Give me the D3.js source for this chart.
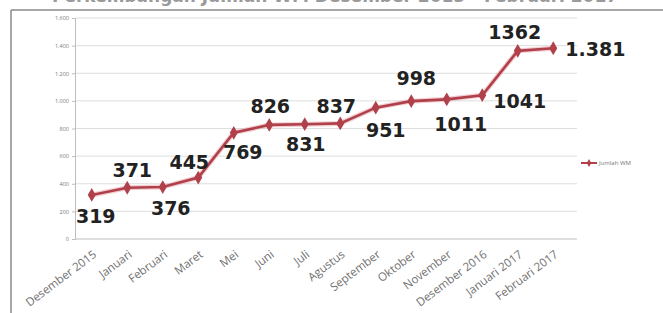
<!DOCTYPE html>
<html><head><meta charset="utf-8">
<script src="https://cdn.jsdelivr.net/npm/d3@7"></script>
<style>body{margin:0;background:#fff;overflow:hidden}svg{display:block}</style>
</head><body>
<svg id="c" width="663" height="313"></svg>
<script>
const categories = ["Desember 2015","Januari","Februari","Maret","Mei","Juni","Juli","Agustus","September","Oktober","November","Desember 2016","Januari 2017","Februari 2017"];
const values = [319,371,376,445,769,826,831,837,951,998,1011,1041,1362,1381];
const valueLabels = ["319","371","376","445","769","826","831","837","951","998","1011","1041","1362","1.381"];
const labelOffsets = [[4,28.5],[5,-11],[8,27.5],[-9,-9],[9,26.5],[1,-11.5],[1,27],[-4,-10],[10,29],[5,-16.5],[14,32],[11,13],[-3,-11.5],[12,8]];
const labelAnchors = ["middle","middle","middle","middle","middle","middle","middle","middle","middle","middle","middle","start","middle","start"];
const yTicks = [0,200,400,600,800,1000,1200,1400,1600];
const yTickLabels = ["0","200","400","600","800","1.000","1.200","1.400","1.600"];
const seriesName = "Jumlah WM";
const titleText = "Perkembangan Jumlah WM Desember 2015 - Februari 2017";

const svg = d3.select("#c");
const pL = 75, pR = 577, pT = 18, pB = 239;
const x = d3.scalePoint().domain(categories).range([74, 571]).padding(0.5);
const y = d3.scaleLinear().domain([0,1600]).range([pB, pT]);
const red = "#b0414a";

// frame & title (title is cropped at the top edge, as in the source image)
svg.append("text").attr("x", 335).attr("y", 2).attr("text-anchor","middle")
  .attr("font-family","DejaVu Sans").attr("font-weight","bold").attr("font-size",17)
  .attr("fill","#9a9a9a").text(titleText);
svg.append("line").attr("x1",11).attr("x2",663).attr("y1",10).attr("y2",10).attr("stroke","#8a8a8a").attr("stroke-width",1.5);
svg.append("line").attr("x1",11).attr("x2",11).attr("y1",10).attr("y2",313).attr("stroke","#8a8a8a").attr("stroke-width",1.5);

// gridlines
svg.append("g").selectAll("line").data(yTicks.slice(1)).join("line")
  .attr("x1", pL).attr("x2", pR).attr("y1", d=>y(d)).attr("y2", d=>y(d))
  .attr("stroke","#dedede").attr("stroke-width",1);

// y axis
const yAxis = d3.axisLeft(y).tickValues(yTicks).tickFormat((d,i)=>yTickLabels[i]).tickSize(3).tickPadding(3);
const gy = svg.append("g").attr("transform",`translate(${pL},0)`).call(yAxis);
gy.select(".domain").attr("stroke","#bdbdbd");
gy.selectAll(".tick line").attr("stroke","#bdbdbd");
gy.selectAll("text").attr("font-family","Open Sans").attr("font-size",5.5).attr("fill","#777");

// x axis
const xAxis = d3.axisBottom(x).tickSize(0).tickPadding(0);
const gx = svg.append("g").attr("transform",`translate(0,${pB})`).call(xAxis);
gx.select(".domain").attr("d", `M${pL},0H${pR}`).attr("stroke","#bdbdbd").attr("stroke-width",1.2);
gx.selectAll("text").attr("font-family","Open Sans").attr("font-size",11.5).attr("fill","#707070")
  .attr("text-anchor","end").attr("dy",0).attr("transform","translate(5,17) rotate(-37)");

// line
const pts = categories.map((c,i)=>[x(c), y(values[i])]);
const line = d3.line();
svg.append("path").attr("d", line(pts)).attr("fill","none").attr("stroke","#e8a0a8").attr("stroke-width",5).attr("opacity",0.5);
svg.append("path").attr("d", line(pts)).attr("fill","none").attr("stroke",red).attr("stroke-width",2.6);
const diamond = d3.symbol().type(d3.symbolDiamond).size(55);
svg.append("g").selectAll("path").data(pts).join("path")
  .attr("transform", d=>`translate(${d[0]},${d[1]})`).attr("d", diamond).attr("fill",red);

// data labels
svg.append("g").selectAll("text").data(values).join("text")
  .attr("x",(d,i)=>x(categories[i]) + labelOffsets[i][0])
  .attr("y",(d,i)=>y(d) + labelOffsets[i][1])
  .attr("text-anchor",(d,i)=>labelAnchors[i])
  .attr("font-family","DejaVu Sans").attr("font-weight","bold").attr("font-size",19)
  .attr("fill","#222").text((d,i)=>valueLabels[i]);

// legend
const lg = svg.append("g").attr("transform","translate(581,163)");
lg.append("line").attr("x1",0).attr("x2",16).attr("stroke",red).attr("stroke-width",2);
lg.append("path").attr("transform","translate(8,0)").attr("d", d3.symbol().type(d3.symbolDiamond).size(18)).attr("fill",red);
lg.append("text").attr("x",18).attr("y",2).attr("font-family","Open Sans").attr("font-size",6).attr("fill","#777").text(seriesName);
</script>
</body></html>
